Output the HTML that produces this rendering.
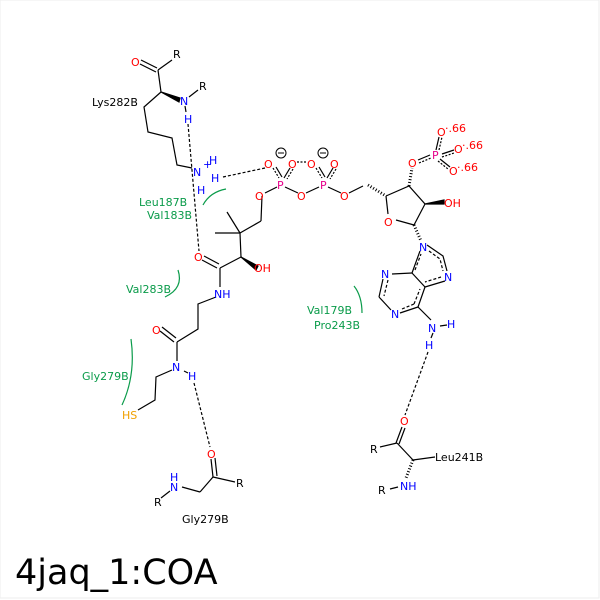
<!DOCTYPE html>
<html><head><style>
html,body{margin:0;padding:0;background:#fff;}
svg{display:block;}
text{font-family:"DejaVu Sans","Liberation Sans",sans-serif;font-size:11px;}
</style></head><body>
<svg width="600" height="600" viewBox="0 0 600 600" xmlns="http://www.w3.org/2000/svg">
<rect x="0" y="0" width="599" height="598" fill="#fff" stroke="#eee" stroke-width="1"/>
<g stroke="#000" stroke-width="1.2" fill="none">
<!-- Lys -->
<line x1="141" y1="60" x2="157" y2="68"/><line x1="140" y1="64" x2="156" y2="72"/>
<line x1="158" y1="70" x2="172" y2="60"/>
<line x1="158" y1="70" x2="161" y2="92"/>
<polygon points="161,92 180,98 179,102" fill="#000"/>
<line x1="189" y1="97" x2="198" y2="90"/>
<line x1="185" y1="106" x2="186" y2="112"/>
<polyline points="161,92 144,107 148,132 172,138 177,165 192,168"/>
<!-- Pantetheine -->
<line x1="262" y1="196" x2="261" y2="221"/>
<polyline points="261,221 240,233"/>
<line x1="240" y1="233" x2="227" y2="212"/>
<line x1="240" y1="233" x2="215" y2="233"/>
<line x1="240" y1="233" x2="241" y2="257"/>
<polygon points="241,257 258,266 256,270" fill="#000"/>
<line x1="241" y1="257" x2="220" y2="268"/>
<line x1="204" y1="256" x2="219" y2="264"/><line x1="202" y1="260" x2="217" y2="268"/>
<line x1="220" y1="268" x2="220" y2="287"/>
<polyline points="216,297 198,304 198,329 177,342"/>
<line x1="162" y1="327" x2="176" y2="338"/><line x1="160" y1="331" x2="174" y2="342"/>
<line x1="177" y1="342" x2="177" y2="361"/>
<polyline points="172,370 156,377 155,400 138,410"/>
<line x1="184" y1="371" x2="188" y2="373"/>
<!-- Gly279 -->
<line x1="211" y1="459" x2="213" y2="477"/><line x1="215" y1="458" x2="217" y2="476"/>
<line x1="213" y1="477" x2="235" y2="482"/>
<line x1="213" y1="477" x2="200" y2="492"/>
<line x1="200" y1="492" x2="182" y2="487"/>
<line x1="170" y1="491" x2="161" y2="498"/>
<!-- phosphates -->
<line x1="265" y1="193" x2="277" y2="187"/>
<line x1="285" y1="187" x2="298" y2="193"/>
<line x1="306" y1="193" x2="319" y2="187"/>
<line x1="328" y1="187" x2="341" y2="193"/>
<line x1="349" y1="193" x2="363" y2="186"/>
<line x1="273" y1="168" x2="279" y2="178" stroke-dasharray="2,1.5"/><line x1="276" y1="167" x2="282" y2="177"/>
<line x1="290" y1="168" x2="284" y2="178"/><line x1="293" y1="169" x2="287" y2="179" stroke-dasharray="2,1.5"/>
<line x1="316" y1="168" x2="322" y2="178" stroke-dasharray="2,1.5"/><line x1="319" y1="167" x2="325" y2="177"/>
<line x1="333" y1="168" x2="327" y2="178"/><line x1="336" y1="169" x2="330" y2="179" stroke-dasharray="2,1.5"/>
<line x1="297" y1="162" x2="306" y2="162" stroke-dasharray="2,1.5"/>
<!-- ribose -->
<line x1="368" y1="185" x2="386" y2="196" stroke-dasharray="1,2" stroke-width="3"/>
<polyline points="386,196 409,186 425,204 414,225 396,220"/>
<line x1="386" y1="196" x2="388" y2="214"/>
<line x1="409" y1="186" x2="412" y2="168" stroke-dasharray="1,2" stroke-width="3"/>
<polygon points="425,204 444,200 444,204" fill="#000"/>
<line x1="414" y1="225" x2="421" y2="241" stroke-dasharray="1,2" stroke-width="3"/>
<!-- 3' phosphate -->
<line x1="418" y1="160" x2="430" y2="155"/><line x1="419" y1="163" x2="431" y2="158" stroke-dasharray="2,1.5"/>
<line x1="436" y1="150" x2="439" y2="137"/><line x1="439" y1="150" x2="442" y2="137" stroke-dasharray="2,1.5"/>
<line x1="442" y1="154" x2="454" y2="150"/><line x1="442" y1="157" x2="454" y2="153" stroke-dasharray="2,1.5"/>
<line x1="440" y1="159" x2="450" y2="167"/><line x1="438" y1="161" x2="448" y2="169" stroke-dasharray="2,1.5"/>
<!-- adenine -->
<polyline points="427,245 443,256 447,271"/>
<line x1="445" y1="281" x2="425" y2="287"/>
<line x1="425" y1="287" x2="412" y2="273"/>
<line x1="412" y1="273" x2="420" y2="251"/>
<line x1="412" y1="273" x2="392" y2="274"/>
<line x1="383" y1="279" x2="379" y2="297"/>
<line x1="379" y1="297" x2="391" y2="310"/>
<line x1="400" y1="313" x2="418" y2="307"/>
<line x1="418" y1="307" x2="425" y2="287"/>
<line x1="418" y1="307" x2="431" y2="320"/>
<line x1="440" y1="326" x2="447" y2="325"/>
<line x1="433" y1="333" x2="431" y2="338"/>
<g stroke-dasharray="3,2">
<polyline points="429,251 440,259 443,271"/>
<line x1="441" y1="277" x2="425" y2="282"/>
<line x1="415" y1="270" x2="421" y2="254"/>
<line x1="388" y1="280" x2="384" y2="296"/>
<line x1="402" y1="309" x2="414" y2="304"/>
<line x1="414" y1="304" x2="420" y2="289"/>
</g>
<!-- Leu241 -->
<line x1="402" y1="427" x2="396" y2="443"/><line x1="405" y1="428" x2="399" y2="444"/>
<line x1="397" y1="443" x2="380" y2="447"/>
<line x1="397" y1="443" x2="413" y2="460"/>
<line x1="413" y1="460" x2="435" y2="457"/>
<line x1="413" y1="460" x2="406" y2="478" stroke-dasharray="1,2" stroke-width="3"/>
<line x1="390" y1="489" x2="398" y2="487"/>
</g>
<!-- Hbonds -->
<g stroke="#000" stroke-width="1.2" stroke-dasharray="3,2" fill="none">
<line x1="188" y1="124" x2="199" y2="251"/>
<line x1="223" y1="177" x2="265" y2="168"/>
<line x1="194" y1="383" x2="210" y2="447"/>
<line x1="428" y1="352" x2="405" y2="415"/>
</g>
<!-- hydrophobic arcs -->
<g stroke="#0a9b4a" stroke-width="1.2" fill="none">
<path d="M203,205 Q210,192 226,189"/>
<path d="M178,270 Q184,288 165,297"/>
<path d="M131,339 Q136,375 122,405"/>
<path d="M354,286 Q362,296 362,313"/>
</g>
<g fill="#0a9b4a">
<text x="139" y="206">Leu187B</text>
<text x="147" y="219">Val183B</text>
<text x="126" y="293">Val283B</text>
<text x="82" y="380">Gly279B</text>
<text x="307" y="314">Val179B</text>
<text x="314" y="329">Pro243B</text>
</g>
<g fill="#000">
<text x="173" y="58">R</text>
<text x="199" y="90">R</text>
<text x="92" y="106">Lys282B</text>
<text x="236" y="487">R</text>
<text x="154" y="506">R</text>
<text x="182" y="523">Gly279B</text>
<text x="370" y="453">R</text>
<text x="435" y="461">Leu241B</text>
<text x="378" y="494">R</text>
</g>
<g fill="#00f">
<text x="180" y="105">N</text>
<text x="184" y="123">H</text>
<text x="193" y="176">N</text>
<text x="203" y="168" font-size="9">+</text>
<text x="209" y="164">H</text>
<text x="211" y="182">H</text>
<text x="197" y="194">H</text>
<text x="214" y="298">NH</text>
<text x="172" y="371">N</text>
<text x="188" y="380">H</text>
<text x="170" y="481">H</text>
<text x="170" y="491">N</text>
<text x="419" y="251">N</text>
<text x="444" y="281">N</text>
<text x="381" y="278">N</text>
<text x="391" y="318">N</text>
<text x="428" y="332">N</text>
<text x="447" y="328">H</text>
<text x="425" y="349">H</text>
<text x="400" y="490">NH</text>
</g>
<g fill="#f00">
<text x="131" y="66">O</text>
<text x="194" y="261">O</text>
<text x="254" y="272">OH</text>
<text x="152" y="334">O</text>
<text x="207" y="458">O</text>
<text x="264" y="168">O</text>
<text x="288" y="168">O</text>
<text x="255" y="200">O</text>
<text x="297" y="200">O</text>
<text x="307" y="168">O</text>
<text x="330" y="168">O</text>
<text x="340" y="200">O</text>
<text x="384" y="226">O</text>
<text x="444" y="207">OH</text>
<text x="408" y="167">O</text>
<text x="437" y="136">O</text>
<text x="454" y="153">O</text>
<text x="449" y="175">O</text>
<text x="445" y="132" font-size="8">·.66</text>
<text x="462" y="149" font-size="8">·.66</text>
<text x="457" y="171" font-size="8">·.66</text>
<text x="400" y="425">O</text>
</g>
<g fill="#e6008a">
<text x="277" y="189">P</text>
<text x="320" y="189">P</text>
<text x="432" y="159">P</text>
</g>
<text x="122" y="419" fill="#f0a000">HS</text>
<g stroke="#000" stroke-width="1" fill="none">
<circle cx="281" cy="153" r="5"/><line x1="278" y1="153" x2="284" y2="153"/>
<circle cx="323" cy="153" r="5"/><line x1="320" y1="153" x2="326" y2="153"/>
</g>
<text x="15" y="584" style="font-size:35px" fill="#000">4jaq_1:COA</text>
</svg>
</body></html>
